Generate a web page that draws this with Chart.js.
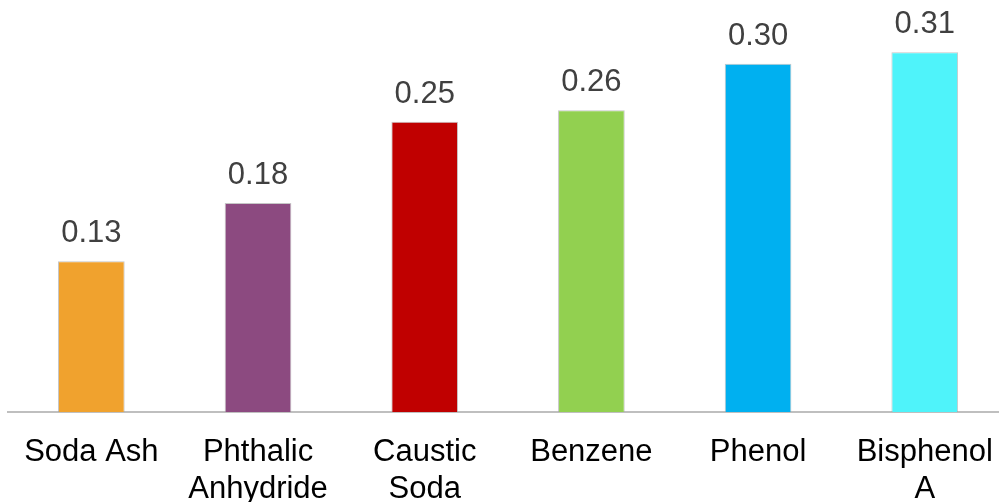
<!DOCTYPE html>
<html>
<head>
<meta charset="utf-8">
<script src="https://cdn.jsdelivr.net/npm/chart.js@4"></script>
<style>
  html, body { margin: 0; padding: 0; background: #fff; overflow: hidden; }
  canvas { display: block; }
</style>
</head>
<body>
<canvas id="chart" width="1015" height="502"></canvas>
<script>
// Chemical products and their values
const categories = [
  ['Soda Ash'],
  ['Phthalic', 'Anhydride'],
  ['Caustic', 'Soda'],
  ['Benzene'],
  ['Phenol'],
  ['Bisphenol', 'A']
];
const values = [0.13, 0.18, 0.25, 0.26, 0.30, 0.31];
const barColors = ['#F0A22E', '#8C4A80', '#C00000', '#92D050', '#00B0F0', '#4FF3FA'];

const FONT = '"Liberation Sans", Arial, sans-serif';

// Writes each bar's value above it
const valueLabels = {
  id: 'valueLabels',
  afterDatasetsDraw(chart) {
    const ctx = chart.ctx;
    const meta = chart.getDatasetMeta(0);
    ctx.save();
    ctx.font = '31px ' + FONT;
    ctx.fillStyle = '#404040';
    ctx.textAlign = 'center';
    ctx.textBaseline = 'alphabetic';
    meta.data.forEach((bar, i) => {
      ctx.fillText(values[i].toFixed(2), bar.x, bar.y - 19);
    });
    ctx.restore();
  }
};

new Chart(document.getElementById('chart'), {
  type: 'bar',
  data: {
    labels: categories,
    datasets: [{
      data: values,
      backgroundColor: barColors,
      borderColor: 'rgba(160,160,160,0.6)',
      borderWidth: 1,
      barPercentage: 0.4,
      categoryPercentage: 1.0
    }]
  },
  options: {
    responsive: false,
    animation: false,
    layout: { padding: { left: 8, right: 2, top: 0, bottom: 0 } },
    plugins: {
      legend: { display: false },
      tooltip: { enabled: false }
    },
    scales: {
      x: {
        grid: { display: false, drawTicks: false },
        border: { display: true, color: '#BFBFBF', width: 2 },
        ticks: {
          color: '#000',
          font: { family: FONT, size: 31, lineHeight: 1.2 },
          padding: 22,
          maxRotation: 0,
          autoSkip: false
        },
        afterFit(scale) { scale.height = 90; }
      },
      y: {
        display: false,
        min: 0,
        max: 0.355
      }
    }
  },
  plugins: [valueLabels]
});
</script>
</body>
</html>
